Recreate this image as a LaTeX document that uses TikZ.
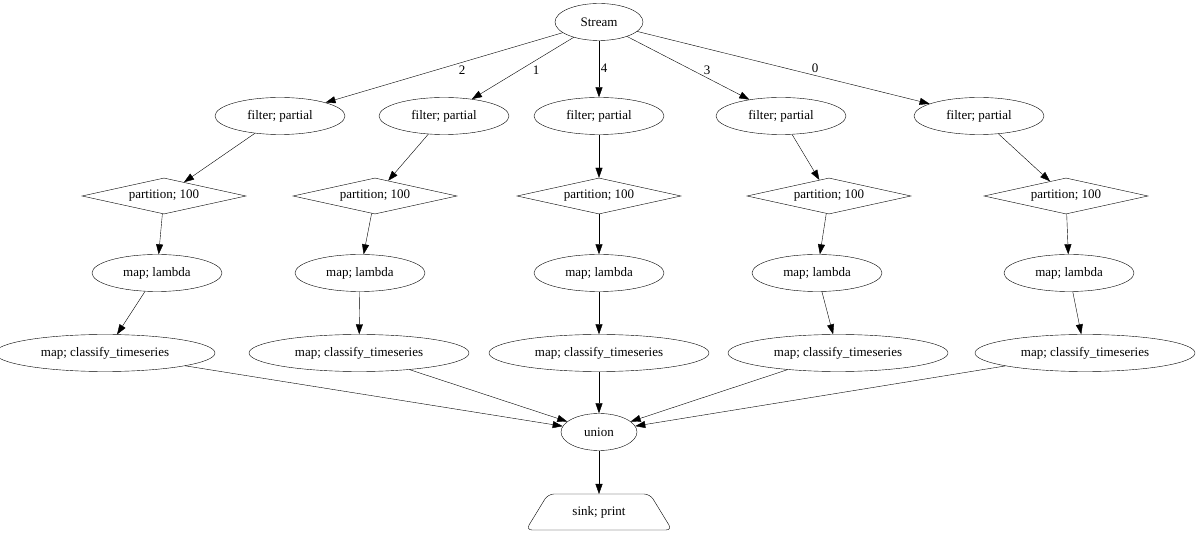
\documentclass[tikz,border=0pt]{standalone}
\usepackage{fontspec}
\setmainfont{Liberation Serif}
\usetikzlibrary{shapes.geometric,arrows.meta}
\begin{document}
\begin{tikzpicture}[x=1pt,y=-1pt,font=\fontsize{13}{15}\selectfont,
  ell/.style={ellipse,draw,inner sep=0pt,minimum height=37pt},
  dia/.style={diamond,draw,aspect=4.5,inner sep=0pt,minimum width=164pt,minimum height=36pt},
  arr/.style={-{Triangle[length=10pt,width=7pt]}},
  lab/.style={inner sep=0pt}]
\useasboundingbox (0,0) rectangle (1200,534);
\node[ell,minimum width=88pt] (s) at (599,22) {Stream};
\foreach \i/\fx/\px/\mx/\cx in {a/280/164/157/105, b/444/375/360/359, c/599/599/599/599, d/781/829/817/838, e/979/1066/1069/1085}{
  \node[ell,minimum width=130pt] (f\i) at (\fx,116) {filter; partial};
  \node[dia] (p\i) at (\px,196) {partition; 100};
  \node[ell,minimum width=130pt] (m\i) at (\mx,273) {map; lambda};
  \node[ell,minimum width=220pt] (c\i) at (\cx,353) {map; classify\_timeseries};
}
\node[ell,minimum width=76pt] (u) at (599,432) {union};
\node[inner sep=0pt,minimum width=140pt,minimum height=36pt] (k) at (599,512) {sink; print};
\draw[rounded corners=6pt] (548,494) -- (650,494) -- (672,530) -- (526,530) -- cycle;
\coordinate (kt) at (599,494);
\foreach \i in {a,b,c,d,e}{
  \draw[arr] (f\i) -- (p\i);
  \draw[arr] (p\i) -- (m\i);
  \draw[arr] (m\i) -- (c\i);
  \draw[arr] (c\i) -- (u);
}
\draw[arr] (s) -- (fa);
\draw[arr] (s) -- (fb);
\draw[arr] (s) -- (fc);
\draw[arr] (s) -- (fd);
\draw[arr] (s) -- (fe);
\node[lab] (l2) at (462,70) {2};
\node[lab] (l1) at (536,70) {1};
\node[lab] (l4) at (604,68) {4};
\node[lab] (l3) at (707,70) {3};
\node[lab] (l0) at (815,68) {0};
\draw[arr] (u) -- (kt);
\end{tikzpicture}
\end{document}
